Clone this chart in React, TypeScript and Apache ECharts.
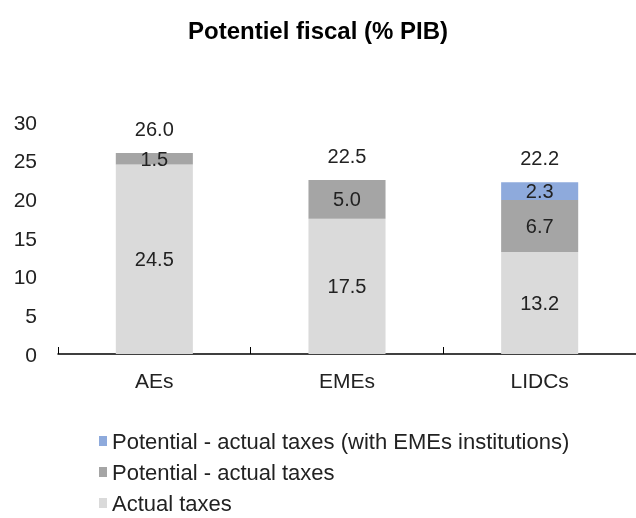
import React, { useEffect, useRef } from "react";
import * as echarts from "echarts";

const categories = ["AEs", "EMEs", "LIDCs"];
const actualTaxes = [24.5, 17.5, 13.2];
const potentialGap = [1.5, 5.0, 6.7];
const potentialGapEME = [0, 0, 2.3];
const yTicks = [0, 5, 10, 15, 20, 25, 30];

const seriesNames = [
  "Potential - actual taxes (with EMEs institutions)",
  "Potential - actual taxes",
  "Actual taxes",
];

export default function App() {
  const ref = useRef<HTMLDivElement>(null);
  useEffect(() => {
    if (!ref.current) return;
    const chart = echarts.init(ref.current, undefined, { renderer: "svg" });
    const totals = categories.map(
      (_, i) => actualTaxes[i] + potentialGap[i] + potentialGapEME[i]
    );
    const font = "Liberation Sans, Arial, sans-serif";
    const segLabel = {
      show: true,
      position: "inside",
      fontSize: 20,
      fontFamily: font,
      color: "#222",
      formatter: (p: any) => (p.value ? Number(p.value).toFixed(1) : ""),
    };
    chart.setOption({
      animation: false,
      title: {
        text: "Potentiel fiscal (% PIB)",
        left: "center",
        top: 13,
        textStyle: { fontSize: 24, fontWeight: "bold", color: "#000", fontFamily: font },
      },
      legend: {
        orient: "vertical",
        left: 99,
        top: 430,
        height: 86,
        padding: 0,
        itemWidth: 8,
        itemHeight: 10,
        itemGap: 9,
        icon: "rect",
        data: seriesNames,
        textStyle: { fontSize: 22, color: "#222", fontFamily: font },
      },
      grid: { left: 58, right: -5, top: 122, bottom: 164 },
      xAxis: {
        type: "category",
        data: categories,
        axisLine: { show: true, lineStyle: { color: "#000", width: 1.5 } },
        axisTick: { show: true, inside: true, length: 7, lineStyle: { color: "#000" } },
        axisLabel: { fontSize: 21, color: "#222", margin: 16, fontFamily: font },
      },
      yAxis: {
        type: "value",
        min: yTicks[0],
        max: yTicks[yTicks.length - 1],
        interval: 5,
        axisLine: { show: false },
        axisTick: { show: false },
        splitLine: { show: false },
        axisLabel: { fontSize: 21, color: "#222", margin: 21, fontFamily: font },
      },
      series: [
        {
          name: "Actual taxes",
          type: "bar",
          stack: "s",
          barWidth: "40%",
          data: actualTaxes,
          itemStyle: { color: "#dadada" },
          label: segLabel,
        },
        {
          name: "Potential - actual taxes",
          type: "bar",
          stack: "s",
          data: potentialGap,
          itemStyle: { color: "#a5a5a5" },
          label: segLabel,
        },
        {
          name: "Potential - actual taxes (with EMEs institutions)",
          type: "bar",
          stack: "s",
          data: potentialGapEME,
          itemStyle: { color: "#8eaadc" },
          label: segLabel,
        },
        {
          name: "Total",
          type: "bar",
          stack: "s",
          data: categories.map(() => 0),
          itemStyle: { color: "transparent" },
          label: {
            show: true,
            position: "top",
            distance: 14,
            fontSize: 20,
            fontFamily: font,
            color: "#222",
            formatter: (p: any) => totals[p.dataIndex].toFixed(1),
          },
        },
      ],
    });
    return () => chart.dispose();
  }, []);
  return (
    <div
      ref={ref}
      style={{ position: "fixed", left: 0, top: 0, width: 636, height: 518 }}
    />
  );
}
